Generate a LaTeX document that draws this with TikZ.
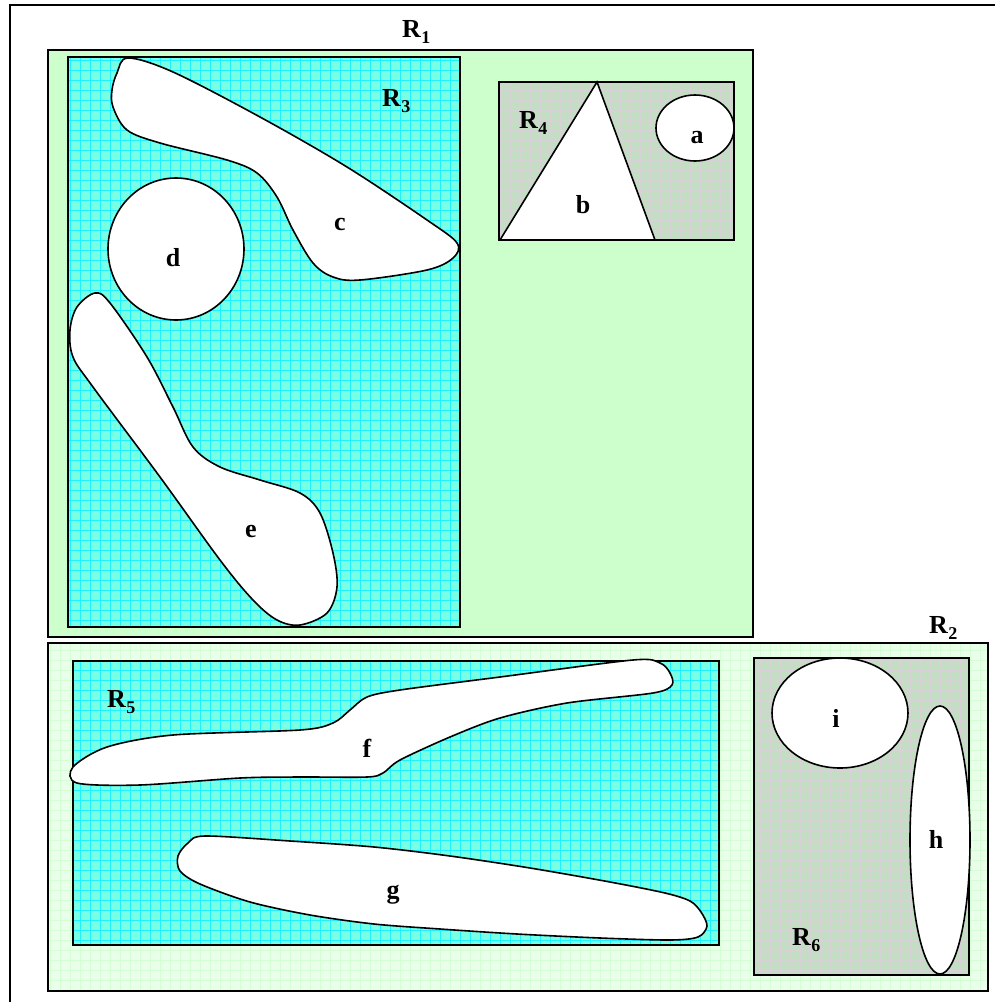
\documentclass[tikz,border=0pt]{standalone}
\usepackage{fontspec}
\setmainfont{Liberation Serif}
\usepackage{xcolor}
\definecolor{greenbg}{RGB}{204,255,204}
\definecolor{palebg}{RGB}{234,255,234}
\definecolor{palegrid}{RGB}{212,255,212}
\definecolor{aquabg}{RGB}{120,255,228}
\definecolor{aquagrid}{RGB}{30,242,255}
\definecolor{graybg}{RGB}{196,222,196}
\definecolor{graygrid}{RGB}{214,210,214}

\begin{document}
\begin{tikzpicture}[x=1pt, y=-1pt,
  region/.style={draw, line width=1.6pt},
  gridlines/.style={line width=0.42pt, step=10pt},
  blob/.style={draw, fill=white, line width=1.6pt},
  lbl/.style={font=\fontsize{26}{28}\selectfont\bfseries, inner sep=0pt},
  idx/.style={font=\fontsize{18}{18}\selectfont\bfseries, inner sep=0pt, anchor=base west}]
  \useasboundingbox (0,0) rectangle (995,1002);
  % outer frame
  \draw[line width=2pt] (10,1002) -- (10,5) -- (995,5);
  % R1
  \fill[greenbg] (48,50) rectangle (753,637);
  \draw[region] (48,50) rectangle (753,637);
  % R2
  \fill[palebg] (48,643) rectangle (988,991);
  \draw[gridlines, palegrid] (48,643) grid (988,991);
  \draw[region] (48,643) rectangle (988,991);
  % R3
  \fill[aquabg] (68,57) rectangle (460,627);
  \draw[gridlines, aquagrid] (68,57) grid (460,627);
  \draw[region] (68,57) rectangle (460,627);
  % R4
  \fill[graybg] (499,82) rectangle (734,240);
  \draw[gridlines, graygrid] (499,82) grid (734,240);
  \draw[region] (499,82) rectangle (734,240);
  % R5
  \fill[aquabg] (73,661) rectangle (719,945);
  \draw[gridlines, aquagrid] (73,661) grid (719,945);
  \draw[region] (73,661) rectangle (719,945);
  % R6
  \fill[graybg] (754,658) rectangle (969,975);
  \draw[gridlines, graygrid] (754,658) grid (969,975);
  \draw[region] (754,658) rectangle (969,975);
  % sets inside R4
  \draw[blob] (695,128) ellipse [x radius=39, y radius=33];
  \draw[blob] (500,240) -- (597,82) -- (655,240) -- cycle;
  % sets inside R3
  \draw[blob] plot[smooth cycle, tension=0.55] coordinates {(128,58) (173,72) (260,117) (347,167) (427,220) (457,243) (453,258) (427,270) (360,280) (333,277) (313,263) (293,230) (277,197) (257,173) (227,160) (160,143) (127,130) (113,107) (112,90) (117,73)};
  \draw[blob] (176,249) ellipse [x radius=68, y radius=71];
  \draw[blob] plot[smooth cycle, tension=0.55] coordinates {(95,293) (110,303) (147,357) (173,407) (193,447) (220,467) (260,480) (300,493) (320,513) (333,553) (337,587) (327,613) (300,625) (277,620) (253,600) (220,560) (160,477) (93,387) (73,357) (70,330) (77,307)};
  % sets inside R5
  \draw[blob] plot[smooth cycle, tension=0.5] coordinates {(73,767) (107,747) (173,735) (300,730) (333,723) (350,710) (367,697) (400,690) (500,677) (633,660) (660,663) (670,673) (672,685) (653,693) (567,703) (500,718) (450,737) (400,760) (383,773) (367,777) (300,777) (240,778) (140,785) (77,783)};
  \draw[blob] plot[smooth cycle, tension=0.5] coordinates {(205,836) (290,841) (374,847) (450,856) (530,868) (610,882) (665,893) (690,901) (701,912) (707,926) (698,937) (670,940) (600,938) (517,934) (440,929) (374,924) (310,915) (250,902) (200,884) (180,871) (178,856) (188,843)};
  % sets inside R6
  \draw[blob] (840,713) ellipse [x radius=68, y radius=55];
  \draw[blob] (940,840) ellipse [x radius=30, y radius=134];
  % region labels
  \node[lbl, anchor=base west] (labR1) at (402,37) {R};
  \node[idx] (subR1) at ([yshift=-6pt]labR1.base east) {1};
  \node[lbl, anchor=base west] (labR2) at (929,633) {R};
  \node[idx] (subR2) at ([yshift=-6pt]labR2.base east) {2};
  \node[lbl, anchor=base west] (labR3) at (382,106) {R};
  \node[idx] (subR3) at ([yshift=-6pt]labR3.base east) {3};
  \node[lbl, anchor=base west] (labR4) at (519,128) {R};
  \node[idx] (subR4) at ([yshift=-6pt]labR4.base east) {4};
  \node[lbl, anchor=base west] (labR5) at (107,707) {R};
  \node[idx] (subR5) at ([yshift=-6pt]labR5.base east) {5};
  \node[lbl, anchor=base west] (labR6) at (792,945) {R};
  \node[idx] (subR6) at ([yshift=-6pt]labR6.base east) {6};
  % set labels
  \node[lbl, anchor=base] (labA) at (697,143) {a};
  \node[lbl, anchor=base] (labB) at (583,213) {b};
  \node[lbl, anchor=base] (labC) at (340,230) {c};
  \node[lbl, anchor=base] (labD) at (173,266) {d};
  \node[lbl, anchor=base] (labE) at (251,537) {e};
  \node[lbl, anchor=base] (labF) at (367,757) {f};
  \node[lbl, anchor=base] (labG) at (393,898) {g};
  \node[lbl, anchor=base] (labH) at (936,848) {h};
  \node[lbl, anchor=base] (labI) at (836,727) {i};
\end{tikzpicture}
\end{document}
